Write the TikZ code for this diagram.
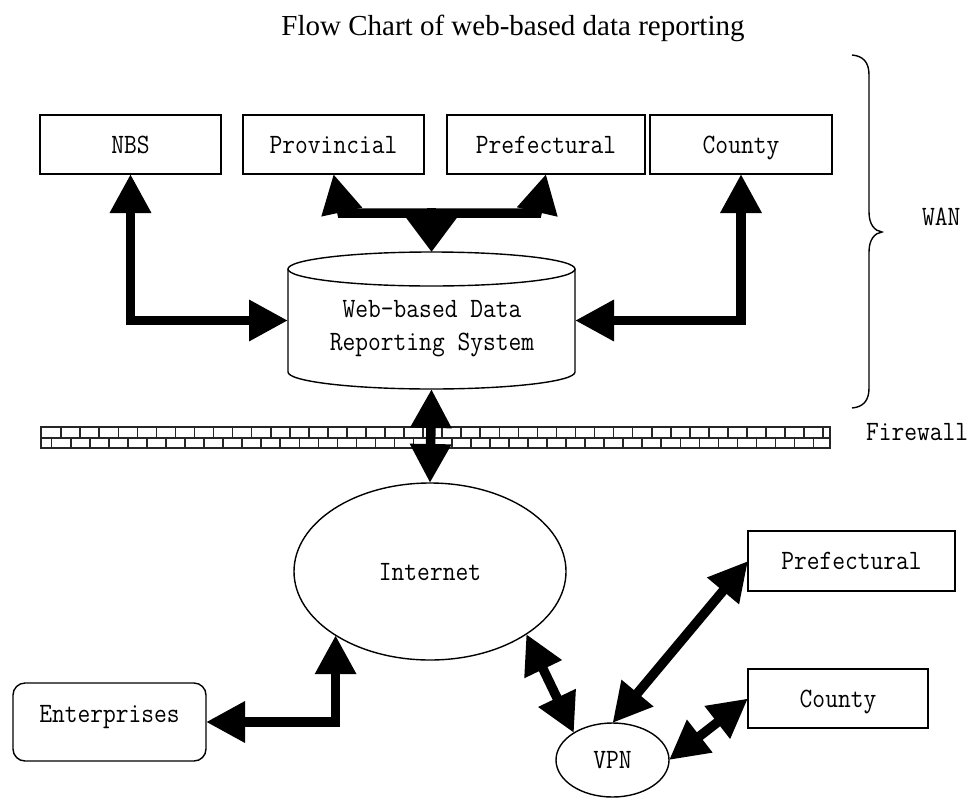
\documentclass[tikz,border=0pt]{standalone}
\usepackage{fontspec}
\setmainfont{Liberation Serif}
\newfontfamily\lblfont[FakeStretch=0.885]{Latin Modern Mono}
\usetikzlibrary{arrows.meta,shapes.geometric}
\tikzset{
  BigTri/.tip={Triangle[length=39pt,width=39pt]},
  lab/.style={font=\lblfont\fontsize{28}{31}\selectfont, text height=17pt, text depth=0pt, inner sep=0pt, outer sep=0pt},
  box/.style={lab, draw, line width=1.4pt, minimum height=59pt},
  oval/.style={lab, draw, ellipse, line width=1.4pt},
  link/.style={line width=9.5pt, BigTri-BigTri},
  wall/.style={line width=1.6pt, black!85},
  outline/.style={line width=1.4pt},
}
\begin{document}
\begin{tikzpicture}[x=1pt,y=-1pt]
\useasboundingbox (0,0) rectangle (976,798);
% title
\node[font=\fontsize{29}{32}\selectfont, anchor=base, inner sep=0pt] (title) at (513,35) {Flow Chart of web-based data reporting};
% top boxes
\node[box, minimum width=181pt] (nbs) at (130.5,144.5) {NBS};
\node[box, minimum width=181pt] (prov) at (333.5,144.5) {Provincial};
\node[box, minimum width=198pt] (pref) at (546,144.5) {Prefectural};
\node[box, minimum width=182pt] (cty) at (741,144.5) {County};
% database cylinder
\node[lab, minimum width=287pt, minimum height=137pt] (db) at (431.5,320.5) {};
\draw[outline] (288,269) -- (288,372) arc[start angle=180,end angle=0,x radius=143.5,y radius=17] -- (575,269);
\draw[outline] (431.5,269) ellipse[x radius=143.5,y radius=17];
\node[lab, anchor=base] (dbt1) at (432,317) {Web-based Data};
\node[lab, anchor=base] (dbt2) at (432,350) {Reporting System};
% firewall
\fill[white] (41,427) rectangle (830,448);
\foreach \k in {-3,...,37} {
  \draw[wall] ({118.3+19.05*\k},427) -- ++(0,11);
  \draw[wall] ({108.8+19.05*\k},438) -- ++(0,10);
}
\draw[wall] (41,427) rectangle (830,448);
\draw[wall] (41,438) -- (830,438);
\node[lab, anchor=base west] (fw) at (866,440) {Firewall};
% brace and WAN
\draw[outline] (852,55) .. controls (863,56) and (869,62) .. (869,75) -- (869,212)
  .. controls (869,225) and (875,231) .. (882,232)
  .. controls (875,233) and (869,239) .. (869,252) -- (869,388)
  .. controls (869,401) and (863,407) .. (852,408);
\node[lab, anchor=base west] (wan) at (922,225) {WAN};
% lower nodes
\node[oval, minimum width=272pt, minimum height=177pt] (inet) at (430,571.5) {Internet};
\node[oval, minimum width=113pt, minimum height=74pt] (vpn) at (612.5,760) {VPN};
\node[box, minimum width=207pt, minimum height=60pt] (pref2) at (851.5,561) {Prefectural};
\node[box, minimum width=180pt] (cty2) at (838,698.5) {County};
\node[box, rounded corners=12pt, minimum width=193pt, minimum height=78pt, text depth=17pt] (ent) at (109.5,722) {Enterprises};
% connectors
\coordinate (jl) at (342,213);
\coordinate (jr) at (537,213);
\coordinate (jm) at (431.5,208);
\draw[link] (nbs.south) |- (db.west);
\draw[link] (cty.south) |- (db.east);
\draw[link] (prov.south) -- (jl) -- (jr) -- (pref.south);
\draw[line width=9.5pt, -{Triangle[length=42pt,width=60pt]}] (jm) -- (db.north);
\draw[link] (db.south) -- (inet.north);
\draw[link] (ent.east) -| (inet.214.3);
\draw[link] (inet.-33.5) -- (vpn.145.6);
\draw[link] (vpn.north) -- (pref2.west);
\draw[link] (vpn.east) -- (cty2.west);
\end{tikzpicture}
\end{document}
